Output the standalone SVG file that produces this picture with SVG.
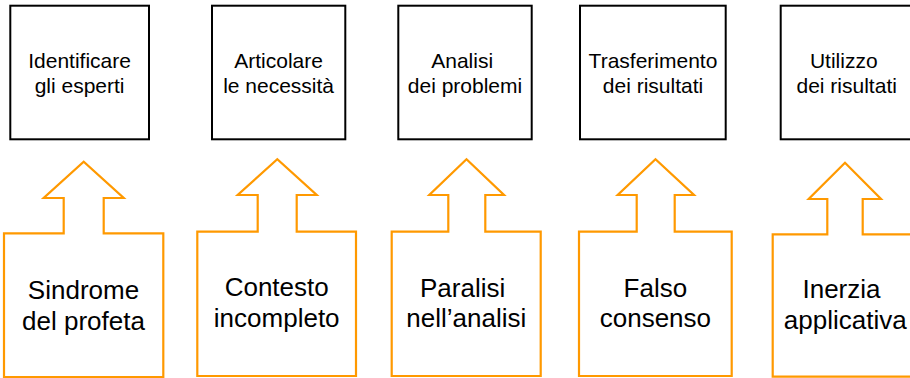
<svg xmlns="http://www.w3.org/2000/svg" width="910" height="378" viewBox="0 0 910 378">
<style>
.box{fill:#ffffff;stroke:#000000;stroke-width:2}
.call{fill:#ffffff;stroke:#FF9900;stroke-width:2.2;stroke-linejoin:miter}
.t{font-family:"Liberation Sans",Arial,sans-serif;font-size:21px;fill:#000;text-anchor:middle}
.b{font-family:"Liberation Sans",Arial,sans-serif;font-size:26px;fill:#000;text-anchor:middle}
</style>
<rect width="910" height="378" fill="#ffffff"/>
<g id="step1"><rect class="box" x="10.3" y="5.7" width="138.7" height="133.6"/><text class="t" x="79.6" y="68.3">Identificare</text><text class="t" x="79.6" y="92.7">gli esperti</text></g>
<g id="step2"><rect class="box" x="212" y="5.7" width="133.3" height="133.6"/><text class="t" x="278.6" y="68.3">Articolare</text><text class="t" x="278.6" y="92.7">le necessità</text></g>
<g id="step3"><rect class="box" x="398.3" y="5.7" width="133.4" height="133.6"/><text class="t" x="462.2" y="68.3">Analisi</text><text class="t" x="465" y="92.7">dei problemi</text></g>
<g id="step4"><rect class="box" x="580" y="5.7" width="145.7" height="133.6"/><text class="t" x="653" y="68.3">Trasferimento</text><text class="t" x="653" y="92.7">dei risultati</text></g>
<g id="step5"><rect class="box" x="780.7" y="5.7" width="135" height="133.6"/><text class="t" x="843.8" y="68.3">Utilizzo</text><text class="t" x="846.7" y="92.7">dei risultati</text></g>
<g id="connectors"></g>
<g id="issue1"><path class="call" d="M4,233.3 H63.7 V198 H43.7 L83.7,161.7 L123.7,198 H103.7 V233.3 H163.3 V377 H4 Z"/><text class="b" x="83.5" y="299">Sindrome</text><text class="b" x="83.5" y="330">del profeta</text></g>
<g id="issue2"><path class="call" d="M197.3,231.7 H257.7 V195 H237.7 L277.3,159.3 L316.7,195 H296.7 V231.7 H356 V376 H197.3 Z"/><text class="b" x="276.7" y="295.7">Contesto</text><text class="b" x="276.7" y="326.7">incompleto</text></g>
<g id="issue3"><path class="call" d="M391.7,231.7 H448.3 V195 H429.3 L466.5,159.3 L504,195 H485.3 V231.7 H540.7 V376 H391.7 Z"/><text class="b" x="462.6" y="296.7">Paralisi</text><text class="b" x="466.3" y="326.7">nell’analisi</text></g>
<g id="issue4"><path class="call" d="M579,231.7 H636.7 V195 H617.7 L655.5,159.3 L694,195 H674.7 V231.7 H731.7 V376 H579 Z"/><text class="b" x="655.4" y="296.5">Falso</text><text class="b" x="655.4" y="326.7">consenso</text></g>
<g id="issue5"><path class="call" d="M772.7,234.3 H827.3 V199 H808.7 L845,162.7 L881,199 H862.7 V234.3 H918 V376.7 H772.7 Z"/><text class="b" x="841.5" y="298.3">Inerzia</text><text class="b" x="845.2" y="328.5">applicativa</text></g>
</svg>
